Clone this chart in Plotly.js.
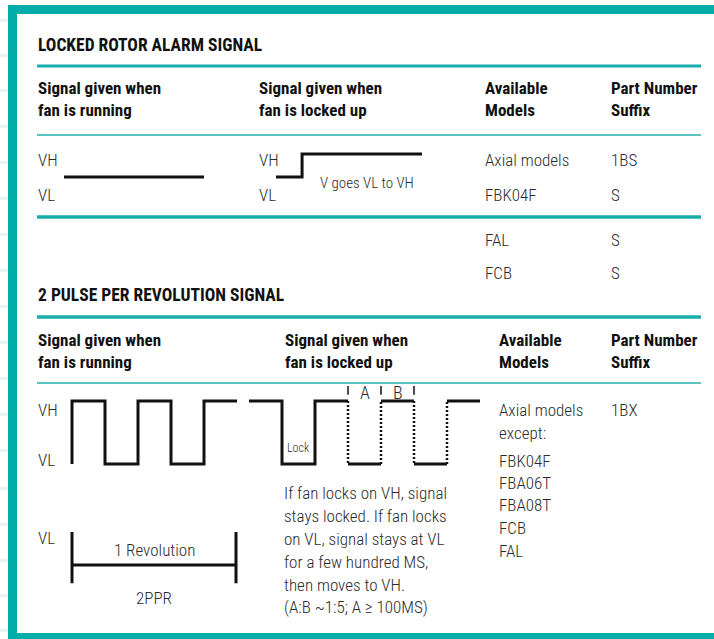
<!DOCTYPE html>
<html><head><meta charset="utf-8">
<script src="https://cdn.plot.ly/plotly-3.0.1.min.js"></script>
<style>html,body{margin:0;padding:0;background:#fff;overflow:hidden}#chart{width:714px;height:639px}
text{font-stretch:condensed !important}</style>
</head><body><div id="chart"></div>
<script>
// ---------------- data ----------------
const lraTitle = 'LOCKED ROTOR ALARM SIGNAL';
const pprTitle = '2 PULSE PER REVOLUTION SIGNAL';
const colHeadRunning = ['Signal given when', 'fan is running'];
const colHeadLocked = ['Signal given when', 'fan is locked up'];
const colHeadModels = ['Available', 'Models'];
const colHeadSuffix = ['Part Number', 'Suffix'];
const levelLabels = ['VH', 'VL'];
const lraModels = ['Axial models', 'FBK04F', 'FAL', 'FCB'];
const lraSuffixes = ['1BS', 'S', 'S', 'S'];
const lraStepLabel = 'V goes VL to VH';
// levels: 0 = VL, 1 = VH
const lraRunT = [0, 1];
const lraRunLevel = [0, 0];
const lraLockT = [0, 1, 5.6];
const lraLockLevel = [0, 1, 1];
// 2 PPR, time in half-periods
const pprRunT = [0, 0, 1, 2, 3, 4, 5];
const pprRunLevel = [0, 1, 0, 1, 0, 1, 1];
const pprLockT = [-1, 0, 1, 2];
const pprLockLevel = [1, 0, 1, 1];
const pprPulseEdges = [2, 3, 4, 5];
const pprPulseLevels = [0, 1, 0, 1];
const pprPulseEnd = 6;
const abTicks = [2, 3, 4];
const abTickExtent = [1.1, 1.24];
const abLabels = ['A', 'B'];
const lockLabel = 'Lock';
const revolutionSpan = [0, 5];
const revolutionBar = [-0.55, 1];
const revolutionLabel = '1 Revolution';
const revolutionSub = '2PPR';
const pprModels = ['Axial models', 'except:', 'FBK04F', 'FBA06T', 'FBA08T', 'FCB', 'FAL'];
const pprSuffixes = ['1BX'];
const pprNote = ['If fan locks on VH, signal', 'stays locked. If fan locks', 'on VL, signal stays at VL',
  'for a few hundred MS,', 'then moves to VH.', '(A:B ~1:5; A \u2265 100MS)'];

// ---------------- layout helpers ----------------
const W = 714, H = 639;
const fx = x => x / W, fy = y => 1 - y / H;
const FONT = 'Roboto, "Open Sans", sans-serif';
const TEAL = '#00ADA8', RULE = '#17AEA9', RULE_LIGHT = '#5CC4BF';
const INK = '#111111', BODY = '#2b2b2b';
const TS = 17.5, HS = 17, BS = 17;

function xAx(pA, pB, vA, vB, padLo, padHi) {
  const k = (pB - pA) / (vB - vA);
  return {domain: [fx(pA - padLo * k), fx(pB + padHi * k)], range: [vA - padLo, vB + padHi],
    visible: false, fixedrange: true, showgrid: false, zeroline: false};
}
function yAx(pA, pB, vA, vB, padLo, padHi) {
  const k = (pA - pB) / (vB - vA);
  return {domain: [fy(pA + padLo * k), fy(pB - padHi * k)], range: [vA - padLo, vB + padHi],
    visible: false, fixedrange: true, showgrid: false, zeroline: false};
}
function T(x, y, text, size, extra) {
  return Object.assign({x: fx(x), y: fy(y), xref: 'paper', yref: 'paper', text: text, showarrow: false,
    xanchor: 'left', yanchor: 'middle', align: 'left', borderpad: 0,
    font: {family: FONT, size: size, color: BODY, weight: 300}}, extra || {});
}
function B(x, y, text, size) { return T(x, y, text, size, {font: {family: FONT, size: size, color: INK, weight: 700}}); }

const ann = [];
const shapes = [];
const traces = [];
const LW = {color: INK, width: 3};

// frame
shapes.push({type: 'rect', xref: 'paper', yref: 'paper', x0: fx(8), x1: 1, y0: fy(14), y1: fy(5), fillcolor: TEAL, line: {width: 0}, layer: 'below'});
shapes.push({type: 'rect', xref: 'paper', yref: 'paper', x0: fx(8), x1: fx(17), y0: 0, y1: fy(5), fillcolor: TEAL, line: {width: 0}, layer: 'below'});
shapes.push({type: 'rect', xref: 'paper', yref: 'paper', x0: fx(8), x1: 1, y0: 0, y1: fy(633), fillcolor: TEAL, line: {width: 0}, layer: 'below'});
[20, 55, 90, 126, 162, 198, 234, 270, 306, 342, 378, 414, 450, 488, 524, 560, 595, 630].forEach(y => {
  shapes.push({type: 'rect', xref: 'paper', yref: 'paper', x0: 0, x1: fx(8), y0: fy(y + 2), y1: fy(y - 1), fillcolor: '#e9f2f4', line: {width: 0}, layer: 'below'});
});
// rules
function rule(y, w, c) { shapes.push({type: 'line', xref: 'paper', yref: 'paper', x0: fx(37), x1: fx(701), y0: fy(y), y1: fy(y), line: {color: c, width: w}}); }
rule(66, 3, RULE); rule(135, 2, RULE_LIGHT); rule(217, 3.5, RULE); rule(317, 3.5, RULE); rule(383, 2, RULE_LIGHT);

// titles and headers
ann.push(B(37, 45, lraTitle, TS));
ann.push(B(37, 295, pprTitle, TS));
[[37, colHeadRunning], [258, colHeadLocked], [484, colHeadModels], [610, colHeadSuffix]].forEach(([x, h]) => {
  ann.push(B(x, 88, h[0], HS)); ann.push(B(x, 110, h[1], HS));
});
[[37, colHeadRunning], [284, colHeadLocked], [498, colHeadModels], [610, colHeadSuffix]].forEach(([x, h]) => {
  ann.push(B(x, 340, h[0], HS)); ann.push(B(x, 362, h[1], HS));
});

// LRA section text
[37, 258].forEach(x => { ann.push(T(x, 160, levelLabels[0], BS)); ann.push(T(x, 195, levelLabels[1], BS)); });
const lraRowsY = [160, 195, 240, 273];
lraModels.forEach((m, i) => { ann.push(T(484, lraRowsY[i], m, BS)); ann.push(T(610, lraRowsY[i], lraSuffixes[i], BS)); });
ann.push(T(319, 183, lraStepLabel, 15));

// LRA waveforms
traces.push({x: lraRunT, y: lraRunLevel, xaxis: 'x', yaxis: 'y', mode: 'lines', line: LW, hoverinfo: 'skip'});
traces.push({x: lraLockT, y: lraLockLevel, xaxis: 'x2', yaxis: 'y2', mode: 'lines', line: Object.assign({shape: 'hv'}, LW), hoverinfo: 'skip'});

// PPR text
ann.push(T(37, 410, levelLabels[0], BS)); ann.push(T(37, 460, levelLabels[1], BS)); ann.push(T(37, 538, levelLabels[1], BS));
const pprRowsY = [410, 433, 461, 483, 505, 528, 551];
pprModels.forEach((m, i) => ann.push(T(498, pprRowsY[i], m, BS)));
pprSuffixes.forEach((s, i) => ann.push(T(610, pprRowsY[i], s, BS)));
const noteY = [493, 516, 539, 562, 585, 607];
pprNote.forEach((l, i) => ann.push(T(283, noteY[i], l, BS)));

// PPR running waveform
traces.push({x: pprRunT, y: pprRunLevel, xaxis: 'x3', yaxis: 'y3', mode: 'lines', line: Object.assign({shape: 'hv'}, LW), hoverinfo: 'skip'});
// PPR locked waveform
traces.push({x: pprLockT, y: pprLockLevel, xaxis: 'x4', yaxis: 'y4', mode: 'lines', line: Object.assign({shape: 'hv'}, LW), hoverinfo: 'skip'});
const hx = [], hy = [], vx = [], vy = [];
pprPulseEdges.forEach((e, i) => {
  const next = i + 1 < pprPulseEdges.length ? pprPulseEdges[i + 1] : pprPulseEnd;
  const before = i === 0 ? pprLockLevel[pprLockLevel.length - 1] : pprPulseLevels[i - 1];
  hx.push(e, next, null); hy.push(pprPulseLevels[i], pprPulseLevels[i], null);
  vx.push(e, e, null); vy.push(before, pprPulseLevels[i], null);
});
traces.push({x: hx, y: hy, xaxis: 'x4', yaxis: 'y4', mode: 'lines', line: LW, hoverinfo: 'skip', connectgaps: false});
traces.push({x: vx, y: vy, xaxis: 'x4', yaxis: 'y4', mode: 'lines', line: {color: INK, width: 2.5, dash: '2px,2px'}, hoverinfo: 'skip', connectgaps: false});
const tx = [], ty = [];
abTicks.forEach(t => { tx.push(t, t, null); ty.push(abTickExtent[0], abTickExtent[1], null); });
traces.push({x: tx, y: ty, xaxis: 'x4', yaxis: 'y4', mode: 'lines', line: {color: INK, width: 1.5}, hoverinfo: 'skip', connectgaps: false});
abLabels.forEach((l, i) => ann.push({x: (abTicks[i] + abTicks[i + 1]) / 2, y: 1.14, xref: 'x4', yref: 'y4', text: l, showarrow: false,
  xanchor: 'center', yanchor: 'middle', font: {family: FONT, size: 18, color: BODY, weight: 300}}));
ann.push({x: 0.5, y: 0.25, xref: 'x4', yref: 'y4', text: lockLabel, showarrow: false, xanchor: 'center', yanchor: 'middle',
  font: {family: FONT, size: 12, color: BODY, weight: 300}});

// revolution ruler
traces.push({x: revolutionSpan, y: [0, 0], xaxis: 'x5', yaxis: 'y5', mode: 'lines', line: LW, hoverinfo: 'skip'});
revolutionSpan.forEach(s => traces.push({x: [s, s], y: revolutionBar, xaxis: 'x5', yaxis: 'y5', mode: 'lines', line: LW, hoverinfo: 'skip'}));
const revMid = (revolutionSpan[0] + revolutionSpan[1]) / 2;
ann.push({x: revMid, y: 0.45, xref: 'x5', yref: 'y5', text: revolutionLabel, showarrow: false, xanchor: 'center', yanchor: 'middle', font: {family: FONT, size: BS, color: BODY, weight: 300}});
ann.push({x: revMid, y: -1.0, xref: 'x5', yref: 'y5', text: revolutionSub, showarrow: false, xanchor: 'center', yanchor: 'middle', font: {family: FONT, size: BS, color: BODY, weight: 300}});

const layout = {
  width: W, height: H, margin: {l: 0, r: 0, t: 0, b: 0, pad: 0},
  paper_bgcolor: '#ffffff', plot_bgcolor: 'rgba(0,0,0,0)', showlegend: false,
  xaxis: Object.assign(xAx(64, 204, 0, 1, 0.05, 0.05), {anchor: 'y'}),
  yaxis: Object.assign(yAx(177, 154, 0, 1, 0.3, 0.3), {anchor: 'x'}),
  xaxis2: Object.assign(xAx(276, 422, 0, 5.6, 0.1, 0.1), {anchor: 'y2'}),
  yaxis2: Object.assign(yAx(177, 154, 0, 1, 0.3, 0.3), {anchor: 'x2'}),
  xaxis3: Object.assign(xAx(72, 237, 0, 5, 0.1, 0.1), {anchor: 'y3'}),
  yaxis3: Object.assign(yAx(464, 401, 0, 1, 0.1, 0.1), {anchor: 'x3'}),
  xaxis4: Object.assign(xAx(249, 480, -1, 6, 0.1, 0.1), {anchor: 'y4'}),
  yaxis4: Object.assign(yAx(464, 401, 0, 1, 0.1, 0.45), {anchor: 'x4'}),
  xaxis5: Object.assign(xAx(72, 236, 0, 5, 0.1, 0.1), {anchor: 'y5'}),
  yaxis5: Object.assign(yAx(565, 532, 0, 1, 1.3, 0.2), {anchor: 'x5'}),
  shapes: shapes, annotations: ann
};
Plotly.newPlot('chart', traces, layout, {staticPlot: true, displayModeBar: false});
</script></body></html>
